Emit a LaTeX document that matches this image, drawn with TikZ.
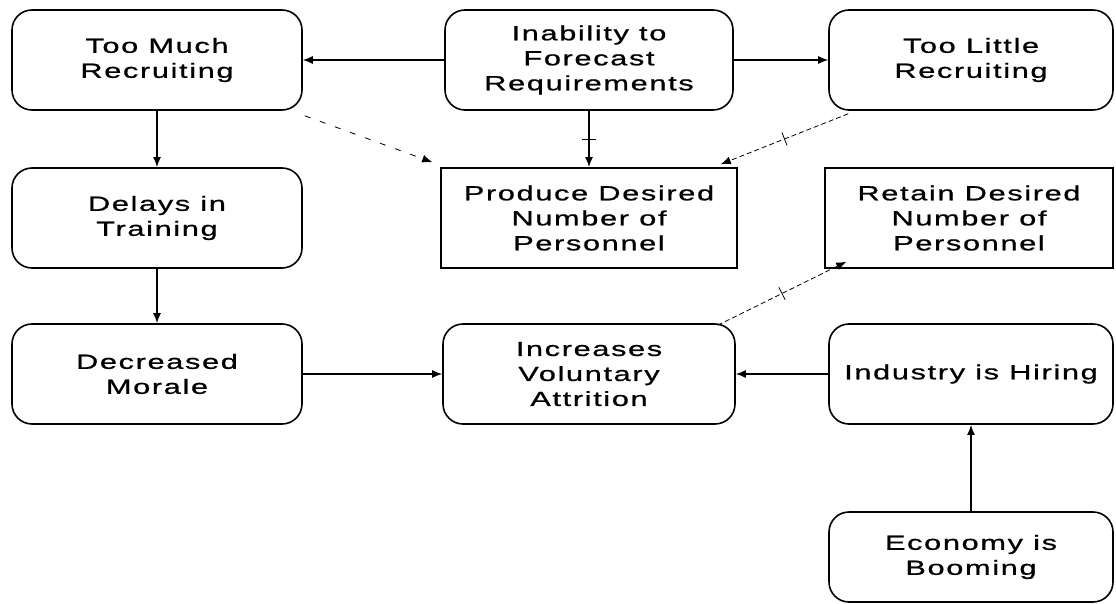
\documentclass[tikz,border=0pt]{standalone}
\usepackage{fontspec}
\setmainfont{Liberation Sans}[FakeStretch=1.5,LetterSpace=8,FakeBold=0.8]
\usetikzlibrary{arrows.meta,calc,decorations.markings}

\begin{document}
\begin{tikzpicture}[x=1pt,y=-1pt,
rbox/.style={draw,line width=1.6pt,rounded corners=20pt,minimum width=290pt,minimum height=100pt,align=center,font=\fontsize{20.5}{25}\selectfont},
sbox/.style={rbox,sharp corners},
link/.style={-{Latex[length=10pt,width=8pt]},line width=1.2pt},
vlink/.style={link,line width=1.6pt},
dlink/.style={link,line width=0.8pt,dash pattern=on 5pt off 3pt},
tick/.style={postaction={decorate,decoration={markings,mark=at position #1 with {\draw[solid,-,line width=0.8pt] (0,-7pt) -- (0,7pt);}}}},
]
	\useasboundingbox (0,0) rectangle (1116,604);
	% top row
	\node[rbox] (tm) at (157,60) {Too Much\\Recruiting};
	\node[rbox,minimum width=288pt] (inab) at (589,60) {Inability to\\Forecast\\Requirements};
	\node[rbox,minimum width=284pt] (tl) at (971,60) {Too Little\\Recruiting};
	% second row
	\node[rbox] (delay) at (157,218) {Delays in\\Training};
	\node[sbox,minimum width=296pt] (prod) at (589,218) {Produce Desired\\Number of\\Personnel};
	\node[sbox,minimum width=288pt] (ret) at (969,218) {Retain Desired\\Number of\\Personnel};
	% third row
	\node[rbox] (morale) at (157,374) {Decreased\\Morale};
	\node[rbox,minimum width=292pt] (attr) at (589,374) {Increases\\Voluntary\\Attrition};
	\node[rbox,minimum width=284pt] (hire) at (971,374) {Industry is Hiring};
	\node[rbox,minimum width=284pt,minimum height=90pt] (boom) at (971,557) {Economy is\\Booming};

	\draw[link] (inab) -- (tm);
	\draw[link] (inab) -- (tl);
	\draw[vlink,tick=.5] (inab) -- (prod);
	\draw[vlink] (tm) -- (delay);
	\draw[vlink] (delay) -- (morale);
	\draw[link] (morale) -- (attr);
	\draw[link] (hire) -- (attr);
	\draw[vlink] (boom) -- (hire);
	\draw[dlink,dash pattern=on 6pt off 10pt] ($(tm.south east)+(2,5)$) -- ($(prod.north west)+(-8,-5)$);
	\draw[dlink,tick=.5] ($(tl.south west)+(20,3)$) -- ($(prod.north east)+(-17,-3)$);
	\draw[dlink,tick=.5] ($(attr.north east)+(-18,2)$) -- ($(ret.south west)+(22,-7)$);
\end{tikzpicture}
\end{document}
